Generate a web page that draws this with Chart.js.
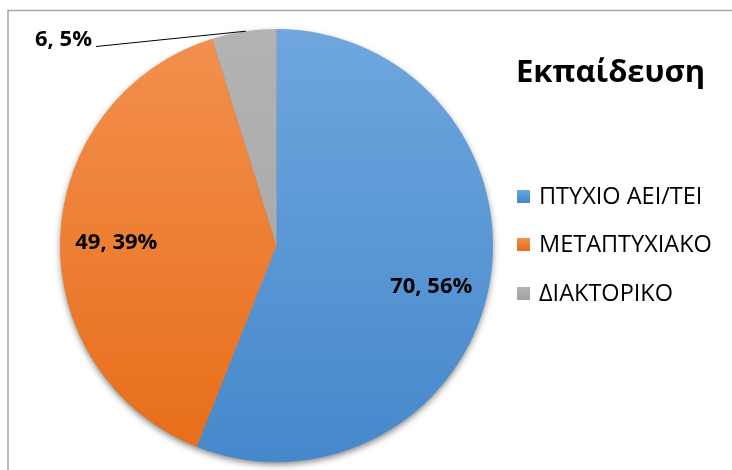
<!DOCTYPE html>
<html>
<head>
<meta charset="utf-8">
<script src="https://cdn.jsdelivr.net/npm/chart.js@4.4.1/dist/chart.umd.min.js"></script>
<style>
  html, body { margin: 0; padding: 0; background: #fff; }
  #wrap { position: relative; width: 732px; height: 470px; }
</style>
</head>
<body>
<div id="wrap"><canvas id="eduChart" width="732" height="470"></canvas></div>
<script>
const chartTitle = "Εκπαίδευση";
const categories = ["ΠΤΥΧΙΟ ΑΕΙ/ΤΕΙ", "ΜΕΤΑΠΤΥΧΙΑΚΟ", "ΔΙΑΚΤΟΡΙΚΟ"];
const counts = [70, 49, 6];
const percents = [56, 39, 5];
// top / bottom shades for each slice
const topColors = ["#6fa6de", "#f3904f", "#b3b3b3"];
const bottomColors = ["#4588cb", "#e76d18", "#a2a2a2"];

const FONT = "'Open Sans', 'Noto Sans', sans-serif";

function sliceGradient(ctx, i) {
  const area = ctx.chart.chartArea;
  if (!area) return topColors[i];
  const g = ctx.chart.ctx.createLinearGradient(0, area.top, 0, area.bottom);
  g.addColorStop(0, topColors[i]);
  g.addColorStop(1, bottomColors[i]);
  return g;
}

// soft shadow under the whole pie
const pieShadow = {
  id: "pieShadow",
  beforeDatasetsDraw(chart) {
    const arc = chart.getDatasetMeta(0).data[0];
    if (!arc) return;
    const c = chart.ctx;
    c.save();
    c.shadowColor = "rgba(0,0,0,0.55)";
    c.shadowBlur = 7;
    c.shadowOffsetY = 3;
    c.fillStyle = "#888";
    c.beginPath();
    c.arc(arc.x, arc.y, arc.outerRadius - 1, 0, Math.PI * 2);
    c.fill();
    c.restore();
  }
};

// point inside an arc, at a fraction of the radius, turned by a few degrees
function arcPoint(arc, frac, shiftDeg) {
  const mid = (arc.startAngle + arc.endAngle) / 2 + shiftDeg * Math.PI / 180;
  const r = arc.outerRadius * frac;
  return { x: arc.x + Math.cos(mid) * r, y: arc.y + Math.sin(mid) * r };
}

// frame, title, legend and data labels
const decorations = {
  id: "decorations",
  beforeDraw(chart) {
    const c = chart.ctx;
    c.save();
    c.strokeStyle = "#a6a6a6";
    c.lineWidth = 1.5;
    c.beginPath();
    c.moveTo(8, 475);
    c.lineTo(8, 10.5);
    c.lineTo(740, 10.5);
    c.stroke();
    c.restore();
  },
  afterDatasetsDraw(chart) {
    const c = chart.ctx;
    const arcs = chart.getDatasetMeta(0).data;
    c.save();

    // title
    c.fillStyle = "#000";
    c.font = "bold 31px " + FONT;
    c.textAlign = "left";
    c.textBaseline = "middle";
    c.fillText(chartTitle, 516, 73);

    // legend
    const legendY = [196, 244, 293];
    c.font = "23.5px " + FONT;
    categories.forEach((name, i) => {
      const g = c.createLinearGradient(0, legendY[i] - 6, 0, legendY[i] + 6);
      g.addColorStop(0, topColors[i]);
      g.addColorStop(1, bottomColors[i]);
      c.fillStyle = g;
      c.fillRect(517, legendY[i] - 6, 13, 13);
      c.fillStyle = "#000";
      c.fillText(name, 539, legendY[i] + 1);
    });

    // data labels
    c.font = "bold 22px " + FONT;
    c.textAlign = "center";
    const p0 = arcPoint(arcs[0], 0.74, 4.2);
    const p1 = arcPoint(arcs[1], 0.74, -1);
    c.fillText(counts[0] + ", " + percents[0] + "%", p0.x, p0.y);
    c.fillText(counts[1] + ", " + percents[1] + "%", p1.x, p1.y);

    // outside label with leader line for the small slice
    const edge = arcPoint(arcs[2], 1, 0.5);
    c.strokeStyle = "#000";
    c.lineWidth = 1;
    c.beginPath();
    c.moveTo(96, 46.5);
    c.lineTo(edge.x, edge.y);
    c.stroke();
    c.textAlign = "right";
    c.fillText(counts[2] + ", " + percents[2] + "%", 92, 40);
    c.restore();
  }
};

new Chart(document.getElementById("eduChart").getContext("2d"), {
  type: "pie",
  data: {
    labels: categories,
    datasets: [{
      data: counts,
      backgroundColor: ctx => sliceGradient(ctx, ctx.dataIndex),
      borderWidth: 0
    }]
  },
  options: {
    responsive: false,
    animation: false,
    rotation: 0,
    layout: { padding: { left: 60, right: 239, top: 29, bottom: 8 } },
    plugins: {
      legend: { display: false },
      title: { display: false },
      tooltip: { enabled: false }
    }
  },
  plugins: [pieShadow, decorations]
});
</script>
</body>
</html>
